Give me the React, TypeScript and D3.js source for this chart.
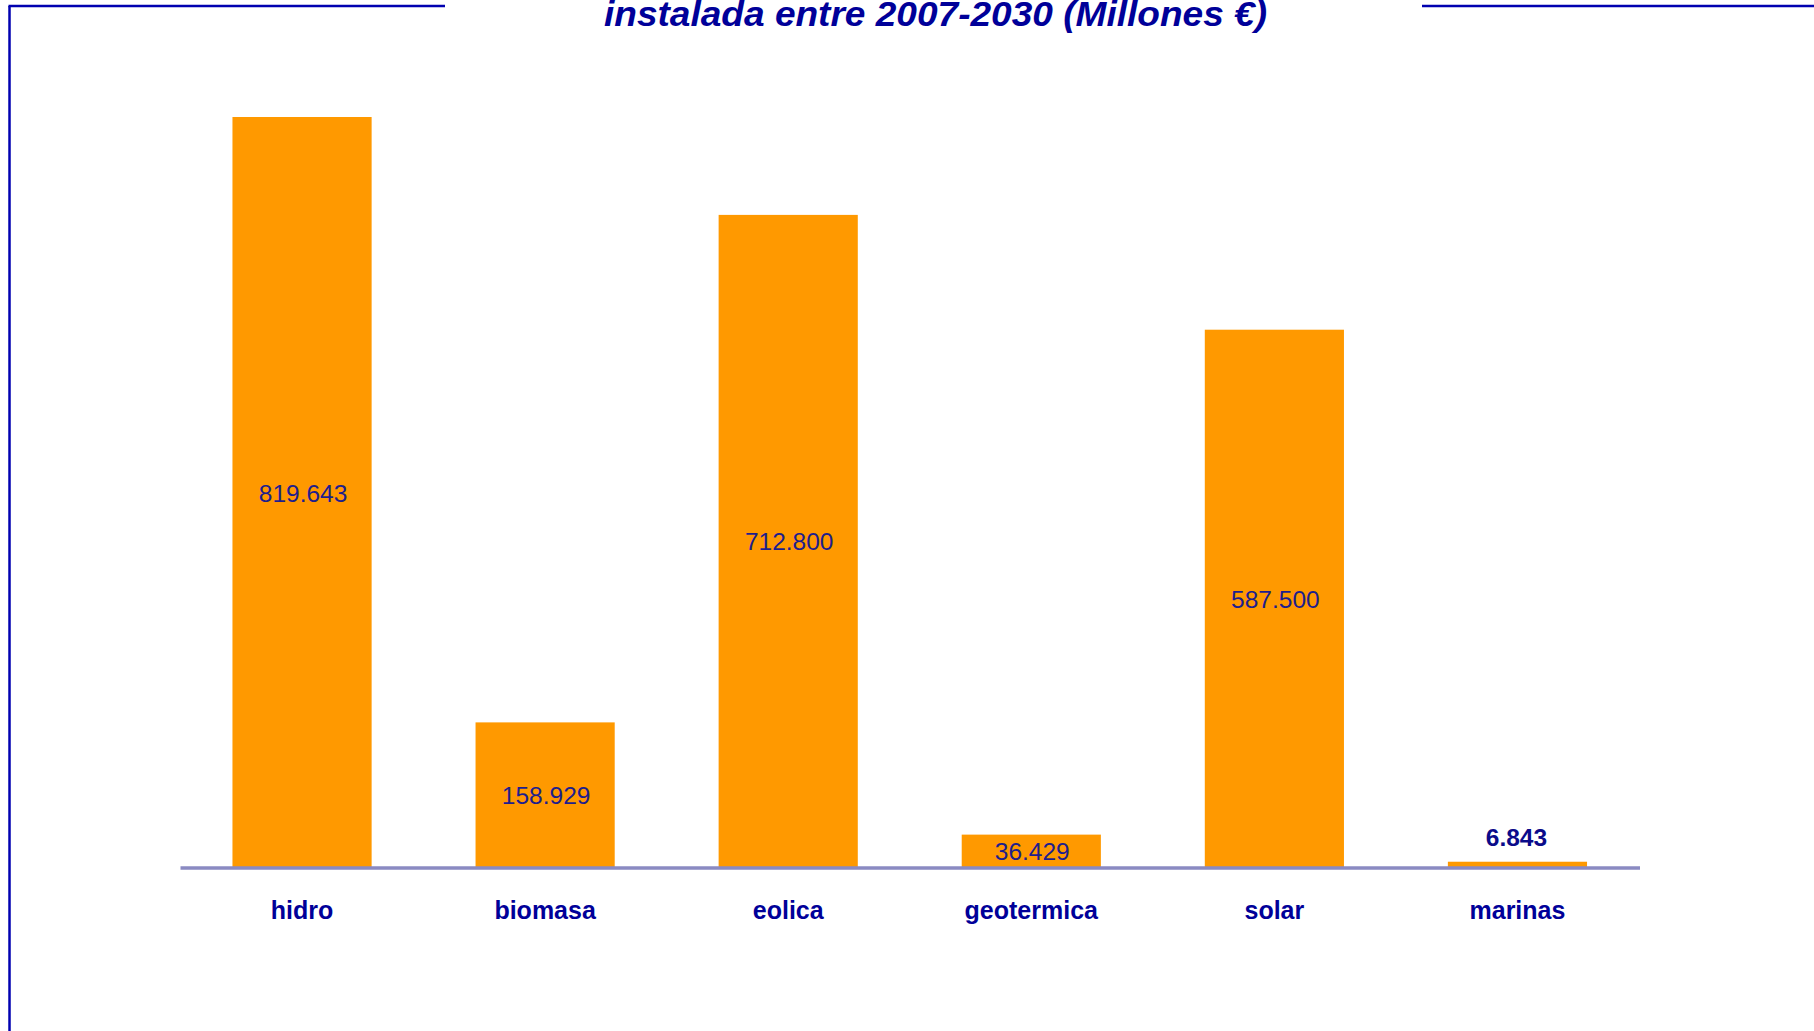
import React from "react";
import * as d3 from "d3";

const categories = ["hidro", "biomasa", "eolica", "geotermica", "solar", "marinas"];
const values = [819.643, 158.929, 712.8, 36.429, 587.5, 6.843];
const valueLabels = ["819.643", "158.929", "712.800", "36.429", "587.500", "6.843"];
const titleText = "instalada entre 2007-2030 (Millones €)";

const W = 1814;
const H = 1031;

export default function App() {
  const x = d3
    .scaleBand<string>()
    .domain(categories)
    .range([180.5, 1639])
    .paddingInner(0.4275)
    .paddingOuter(0.21375);
  const y = d3.scaleLinear().domain([0, 819.643]).range([868, 117]);
  const base = y(0);
  const font = "'Liberation Sans', Arial, sans-serif";

  return (
    <svg
      width={W}
      height={H}
      style={{ position: "absolute", left: 0, top: 0, background: "#fff" }}
      fontFamily={font}
    >
      {/* frame */}
      <line x1={9.5} y1={6} x2={9.5} y2={H} stroke="#0000b0" strokeWidth={2.5} />
      <line x1={8.5} y1={6} x2={445} y2={6} stroke="#0000b0" strokeWidth={2.5} />
      <line x1={1422} y1={6} x2={W} y2={6} stroke="#0000b0" strokeWidth={2.5} />

      {/* title */}
      <text
        x={604}
        y={26}
        fontSize={35}
        fontWeight="bold"
        fontStyle="italic"
        fill="#000099"
        textLength={663}
        lengthAdjust="spacingAndGlyphs"
      >
        {titleText}
      </text>

      {/* bars */}
      {categories.map((c, i) => {
        const bx = x(c) as number;
        const top = y(values[i]);
        return (
          <rect key={c} x={bx} y={top} width={x.bandwidth()} height={base - top} fill="#ff9900" />
        );
      })}

      {/* axis line */}
      <line x1={180.5} y1={base} x2={1640} y2={base} stroke="#8a8ac2" strokeWidth={3.5} />

      {/* value labels */}
      {categories.map((c, i) => {
        const cx = (x(c) as number) + x.bandwidth() / 2;
        const top = y(values[i]);
        const inside = base - top > 30;
        const ly = inside ? (top + base) / 2 + 9 : top - 16;
        return (
          <text
            key={c + "v"}
            x={cx + (inside ? 1 : -1)}
            y={ly}
            fontSize={24.5}
            fontWeight={inside ? "normal" : "bold"}
            fill={inside ? "#1e1e8c" : "#0b0b8a"}
            textAnchor="middle"
          >
            {valueLabels[i]}
          </text>
        );
      })}

      {/* category labels */}
      {categories.map((c) => {
        const cx = (x(c) as number) + x.bandwidth() / 2;
        return (
          <text
            key={c + "c"}
            x={cx}
            y={919}
            fontSize={25}
            fontWeight="bold"
            fill="#000099"
            textAnchor="middle"
          >
            {c}
          </text>
        );
      })}
    </svg>
  );
}
